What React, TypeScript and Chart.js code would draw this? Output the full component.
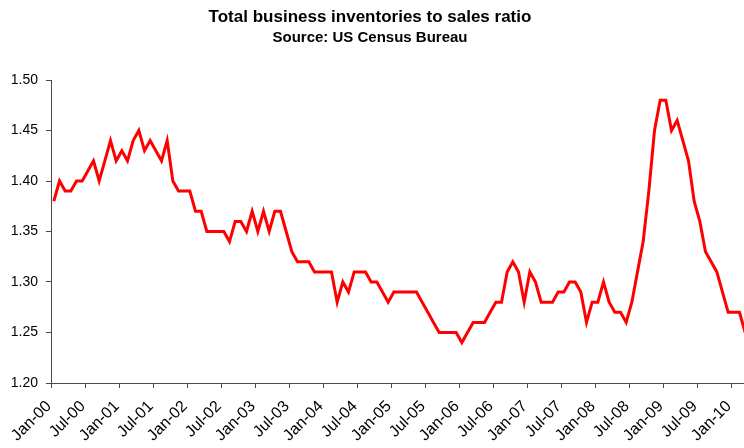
import React, { useEffect, useRef } from "react";
import { Chart, registerables } from "chart.js";

Chart.register(...registerables);

const TITLE = "Total business inventories to sales ratio";
const SUBTITLE = "Source: US Census Bureau";

const MONTHS = ["Jan", "Feb", "Mar", "Apr", "May", "Jun", "Jul", "Aug", "Sep", "Oct", "Nov", "Dec"];
const YEARS = ["00", "01", "02", "03", "04", "05", "06", "07", "08", "09", "10"];

const ratio2000 = [1.38, 1.40, 1.39, 1.39, 1.40, 1.40, 1.41, 1.42, 1.40, 1.42, 1.44, 1.42];
const ratio2001 = [1.43, 1.42, 1.44, 1.45, 1.43, 1.44, 1.43, 1.42, 1.44, 1.40, 1.39, 1.39];
const ratio2002 = [1.39, 1.37, 1.37, 1.35, 1.35, 1.35, 1.35, 1.34, 1.36, 1.36, 1.35, 1.37];
const ratio2003 = [1.35, 1.37, 1.35, 1.37, 1.37, 1.35, 1.33, 1.32, 1.32, 1.32, 1.31, 1.31];
const ratio2004 = [1.31, 1.31, 1.28, 1.30, 1.29, 1.31, 1.31, 1.31, 1.30, 1.30, 1.29, 1.28];
const ratio2005 = [1.29, 1.29, 1.29, 1.29, 1.29, 1.28, 1.27, 1.26, 1.25, 1.25, 1.25, 1.25];
const ratio2006 = [1.24, 1.25, 1.26, 1.26, 1.26, 1.27, 1.28, 1.28, 1.31, 1.32, 1.31, 1.28];
const ratio2007 = [1.31, 1.30, 1.28, 1.28, 1.28, 1.29, 1.29, 1.30, 1.30, 1.29, 1.26, 1.28];
const ratio2008 = [1.28, 1.30, 1.28, 1.27, 1.27, 1.26, 1.28, 1.31, 1.34, 1.39, 1.45, 1.48];
const ratio2009 = [1.48, 1.45, 1.46, 1.44, 1.42, 1.38, 1.36, 1.33, 1.32, 1.31, 1.29, 1.27];
const ratio2010 = [1.27, 1.27, 1.25];

const Y_MIN = 1.2;
const Y_MAX = 1.5;
const Y_STEP = 0.05;
const LABEL_EVERY = 6;

const ratios = [
  ...ratio2000, ...ratio2001, ...ratio2002, ...ratio2003, ...ratio2004, ...ratio2005,
  ...ratio2006, ...ratio2007, ...ratio2008, ...ratio2009, ...ratio2010,
];
const categories: string[] = [];
YEARS.forEach((y) => MONTHS.forEach((m) => categories.push(`${m}-${y}`)));
categories.length = ratios.length;

const FONT = "'Liberation Sans', Arial, Helvetica, sans-serif";
const AXIS_COLOR = "#4a4a4a";

const titlePlugin = {
  id: "titles",
  afterDraw(chart: any) {
    const ctx = chart.ctx;
    ctx.save();
    ctx.fillStyle = "#000";
    ctx.textAlign = "center";
    ctx.textBaseline = "alphabetic";
    ctx.font = `bold 17px ${FONT}`;
    ctx.fillText(TITLE, 370, 22);
    ctx.font = `bold 15px ${FONT}`;
    ctx.fillText(SUBTITLE, 370, 42);
    ctx.restore();
  },
};

export default function App() {
  const ref = useRef<HTMLCanvasElement | null>(null);
  useEffect(() => {
    document.body.style.margin = "0";
    const canvas = ref.current!;
    const chart = new Chart(canvas, {
      type: "line",
      data: {
        labels: categories,
        datasets: [
          {
            data: ratios,
            borderColor: "#ff0000",
            borderWidth: 3,
            pointRadius: 0,
            tension: 0,
            fill: false,
          },
        ],
      },
      options: {
        animation: false,
        responsive: false,
        devicePixelRatio: 1,
        layout: { padding: { top: 80, right: 1, left: 0, bottom: 0 } },
        plugins: { legend: { display: false }, title: { display: false }, tooltip: { enabled: false } },
        scales: {
          x: {
            type: "category",
            offset: true,
            afterFit: (s: any) => {
              s.height = 65;
              s.paddingLeft = 0;
              s.paddingRight = 0;
            },
            grid: {
              offset: true,
              drawOnChartArea: false,
              drawTicks: true,
              tickLength: 5,
              lineWidth: 1,
              color: (c: any) => (typeof c.index === "number" && c.index % LABEL_EVERY === 0 ? AXIS_COLOR : "rgba(0,0,0,0)"),
            },
            border: { display: true, color: AXIS_COLOR, width: 1 },
            ticks: {
              autoSkip: false,
              minRotation: 45,
              maxRotation: 45,
              padding: 9,
              labelOffset: -5,
              color: "#000",
              font: { family: FONT, size: 16 },
              callback: (_v: any, i: number) => (i % LABEL_EVERY === 0 ? categories[i] : ""),
            },
          },
          y: {
            type: "linear",
            min: Y_MIN,
            max: Y_MAX,
            afterFit: (s: any) => {
              s.width = 51;
            },
            grid: {
              drawOnChartArea: false,
              drawTicks: true,
              tickLength: 5,
              color: AXIS_COLOR,
            },
            border: { display: true, color: AXIS_COLOR, width: 1 },
            ticks: {
              stepSize: Y_STEP,
              padding: 8,
              color: "#000",
              font: { family: FONT, size: 14 },
              callback: (v: any) => Number(v).toFixed(2),
            },
          },
        },
      },
      plugins: [titlePlugin],
    });
    return () => chart.destroy();
  }, []);
  return (
    <div style={{ width: 744, height: 448, overflow: "hidden", position: "relative" }}>
      <canvas ref={ref} width={749} height={448} style={{ display: "block", width: 749, height: 448 }} />
    </div>
  );
}
